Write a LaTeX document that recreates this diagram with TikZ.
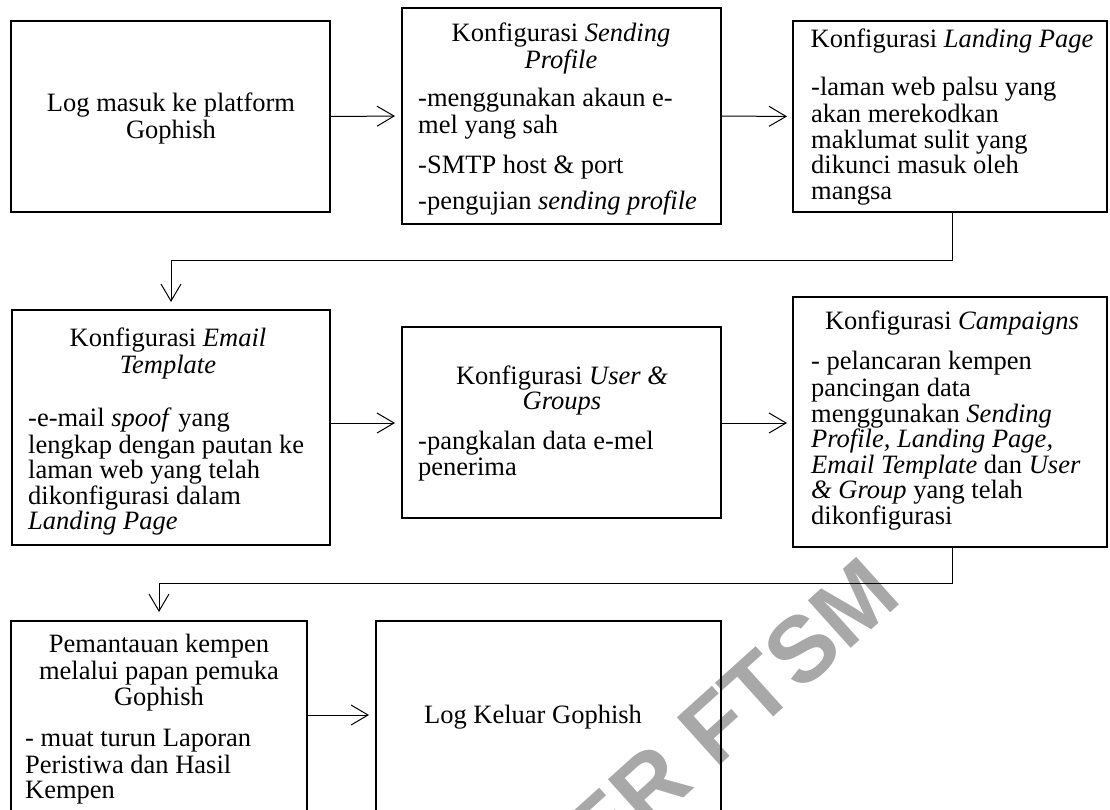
\documentclass[tikz,border=0pt]{standalone}
\usepackage{fontspec}
\setmainfont{Liberation Serif}
\newfontfamily\wmfont{Liberation Sans}
\usetikzlibrary{arrows.meta}
\newcommand\fs{\fontsize{26.5}{25.5}\selectfont}
\definecolor{wm}{RGB}{168,168,168}
\begin{document}
\begin{tikzpicture}[x=1pt,y=-1pt,
  box/.style={draw,line width=2pt,anchor=north west,inner sep=0pt,outer sep=0pt},
  head/.style={anchor=north,align=center,inner sep=0pt,font=\fs},
  body/.style={anchor=north west,align=left,inner sep=0pt,font=\fs},
  conn/.style={line width=1pt,-{Straight Barb[length=17pt,width=20pt]}},
  wmark/.style={text=wm,font=\wmfont\bfseries\fontsize{93}{93}\selectfont,inner sep=0pt}]
\useasboundingbox (0,0) rectangle (1110,809);
\clip (0,0) rectangle (1110,809);
% watermark
\node[wmark,rotate=42,anchor=base east] (wm) at (904,600) {SUMBER FTSM};
% boxes
\node[box,minimum width=319pt,minimum height=191pt] (b1) at (11,21) {};
\node[box,minimum width=319pt,minimum height=216pt] (b2) at (402,8) {};
\node[box,minimum width=314pt,minimum height=191pt] (b3) at (793,21) {};
\node[box,minimum width=318pt,minimum height=235pt] (b4) at (12,310) {};
\node[box,minimum width=319pt,minimum height=191pt] (b5) at (402,327) {};
\node[box,minimum width=314pt,minimum height=250pt] (b6) at (793,297) {};
\node[box,minimum width=296pt,minimum height=230pt] (b7) at (11,621) {};
\node[box,minimum width=345pt,minimum height=230pt] (b8) at (376,621) {};
% texts
\node[head] (t1) at (171,92.15) {\strut Log masuk ke platform\\Gophish};
\node[head] (h2) at (561,22.15) {\strut Konfigurasi \textit{Sending}\\\textit{Profile}};
\node[body] (p2) at (418,88.15) {\strut -menggunakan akaun e-\\mel yang sah\\[14pt]-SMTP host \& port\\[11pt]-pengujian \textit{sending profile}};
\node[head] (h3) at (952,28.15) {\strut Konfigurasi \textit{Landing Page}};
\node[body] (p3) at (811,77.15) {\strut -laman web palsu yang\\akan merekodkan\\maklumat sulit yang\\dikunci masuk oleh\\mangsa};
\node[head] (h4) at (168,327.15) {\strut Konfigurasi \textit{Email}\\\textit{Template}};
\node[body] (p4) at (28,407.15) {\strut -e-mail \textit{spoof} yang\\lengkap dengan pautan ke\\laman web yang telah\\dikonfigurasi dalam\\\textit{Landing Page}};
\node[head] (h5) at (562,365.15) {\strut Konfigurasi \textit{User \&}\\\textit{Groups}};
\node[body] (p5) at (418,431.15) {\strut -pangkalan data e-mel\\penerima};
\node[head] (h6) at (952,310.15) {\strut Konfigurasi \textit{Campaigns}};
\node[body] (p6) at (811,351.15) {\strut - pelancaran kempen\\pancingan data\\menggunakan \textit{Sending}\\\textit{Profile, Landing Page,}\\\textit{Email Template} dan \textit{User}\\\textit{\& Group} yang telah\\dikonfigurasi};
\node[head] (h7) at (159,634.15) {\strut Pemantauan kempen\\melalui papan pemuka\\Gophish};
\node[body] (p7) at (25,728.15) {\strut - muat turun Laporan\\Peristiwa dan Hasil\\Kempen};
\node[head] (t8) at (533,705.15) {\strut Log Keluar Gophish};
% connectors
\coordinate (c34) at (0,260);
\coordinate (c67) at (0,583);
\coordinate (m45) at (0,423);
\coordinate (m78) at (0,715);
\draw[conn,shorten >=7pt] (b1.east) -- (b2.west);
\draw[conn,shorten >=6pt] (b2.east) -- (b3.west);
\draw[conn,shorten >=8pt] ([xshift=2pt]b3.south) -- ([xshift=2pt]b3.south |- c34) -| (b4.north);
\draw[conn,shorten >=7pt] (b4.east |- m45) -- (b5.west |- m45);
\draw[conn,shorten >=6pt] (b5.east |- m45) -- (b6.west |- m45);
\draw[conn,shorten >=9pt] ([xshift=2pt]b6.south) -- ([xshift=2pt]b6.south |- c67) -| (b7.north);
\draw[conn,shorten >=7pt] (b7.east |- m78) -- (b8.west |- m78);
\end{tikzpicture}
\end{document}
